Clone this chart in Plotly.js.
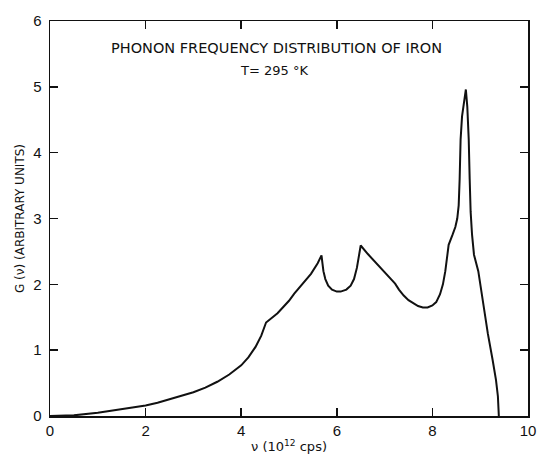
<!DOCTYPE html>
<html>
<head>
<meta charset="utf-8">
<script src="https://cdn.plot.ly/plotly-3.0.1.min.js"></script>
<style>html,body{margin:0;padding:0;background:#fff;}#chart{width:539px;height:454px;}</style>
</head>
<body>
<div id="chart"></div>
<script>
// Phonon frequency (10^12 cps) and G(nu)
const freq = [0, 0.5, 1.0, 1.5, 1.75, 2.0, 2.25, 2.5, 2.75, 3.0, 3.25, 3.5, 3.75, 4.0, 4.15, 4.3, 4.42, 4.52,
  4.76, 5.0, 5.11, 5.3, 5.46, 5.6, 5.68,
  5.70, 5.72, 5.76, 5.82, 5.90, 6.0, 6.08, 6.20, 6.29, 6.36, 6.42, 6.46, 6.50,
  6.65, 6.80, 7.00, 7.22, 7.30, 7.40, 7.50, 7.60, 7.70, 7.80, 7.90, 8.00, 8.08, 8.16, 8.22, 8.27, 8.31, 8.34,
  8.42, 8.48, 8.52, 8.55, 8.57, 8.59, 8.62, 8.66, 8.70,
  8.73, 8.76, 8.78, 8.80, 8.83, 8.87, 8.96, 9.05, 9.16, 9.26, 9.33, 9.37, 9.39];
const gnu = [0, 0.01, 0.05, 0.10, 0.13, 0.16, 0.20, 0.25, 0.30, 0.36, 0.43, 0.52, 0.63, 0.77, 0.89, 1.05, 1.22, 1.42,
  1.56, 1.75, 1.86, 2.02, 2.16, 2.32, 2.44,
  2.32, 2.20, 2.08, 1.98, 1.92, 1.89, 1.89, 1.92, 1.98, 2.08, 2.25, 2.42, 2.59,
  2.46, 2.34, 2.18, 2.01, 1.92, 1.83, 1.76, 1.71, 1.67, 1.65, 1.65, 1.68, 1.73, 1.85, 2.00, 2.20, 2.42, 2.60,
  2.75, 2.87, 3.00, 3.20, 3.60, 4.20, 4.55, 4.80, 4.96,
  4.70, 4.20, 3.60, 3.10, 2.75, 2.45, 2.20, 1.75, 1.25, 0.85, 0.55, 0.30, 0];
const xTicks = [0, 2, 4, 6, 8, 10];
const yTicks = [0, 1, 2, 3, 4, 5, 6];
const titleText = 'PHONON FREQUENCY DISTRIBUTION OF IRON';
const subText = 'T= 295 °K';
const xTitle = 'ν (10<sup>12</sup> cps)';
const yTitle = 'G (ν) (ARBITRARY UNITS)';

const font = 'DejaVu Sans, Liberation Sans, sans-serif';
const tickFontFam = 'Liberation Sans, Arial, sans-serif';
const trace = {
  x: freq, y: gnu, type: 'scatter', mode: 'lines',
  line: {color: '#111', width: 2, shape: 'linear'},
  hoverinfo: 'skip'
};
const axisCommon = {
  showgrid: false, zeroline: false, showline: true, mirror: 'ticks',
  linecolor: '#111', linewidth: 1.5, ticks: 'inside', ticklen: 8, tickwidth: 1.5,
  tickcolor: '#111', tickfont: {family: tickFontFam, size: 15, color: '#111'}
};
const layout = {
  width: 539, height: 454,
  margin: {l: 50, r: 11, t: 21, b: 38},
  paper_bgcolor: '#fff', plot_bgcolor: '#fff',
  showlegend: false,
  title: {text: titleText, font: {family: font, size: 14.5, color: '#111'},
    x: 0.474, xanchor: 'center', xref: 'paper', y: 0.894, yref: 'container', yanchor: 'middle'},
  annotations: [{text: subText, xref: 'paper', yref: 'paper', x: 0.468, y: 0.874,
    xanchor: 'center', yanchor: 'middle', showarrow: false,
    font: {family: font, size: 13, color: '#111'}}],
  xaxis: Object.assign({}, axisCommon, {range: [0, 10], tickvals: xTicks,
    ticktext: xTicks.map(String),
    title: {text: xTitle, font: {family: font, size: 13, color: '#111'}, standoff: 16}}),
  yaxis: Object.assign({}, axisCommon, {range: [0, 6], tickvals: yTicks,
    ticktext: yTicks.map(String), ticklabelstandoff: 4,
    title: {text: yTitle, font: {family: font, size: 12, color: '#111'}, standoff: 6}})
};
Plotly.newPlot('chart', [trace], layout, {staticPlot: true, displayModeBar: false});
</script>
</body>
</html>
